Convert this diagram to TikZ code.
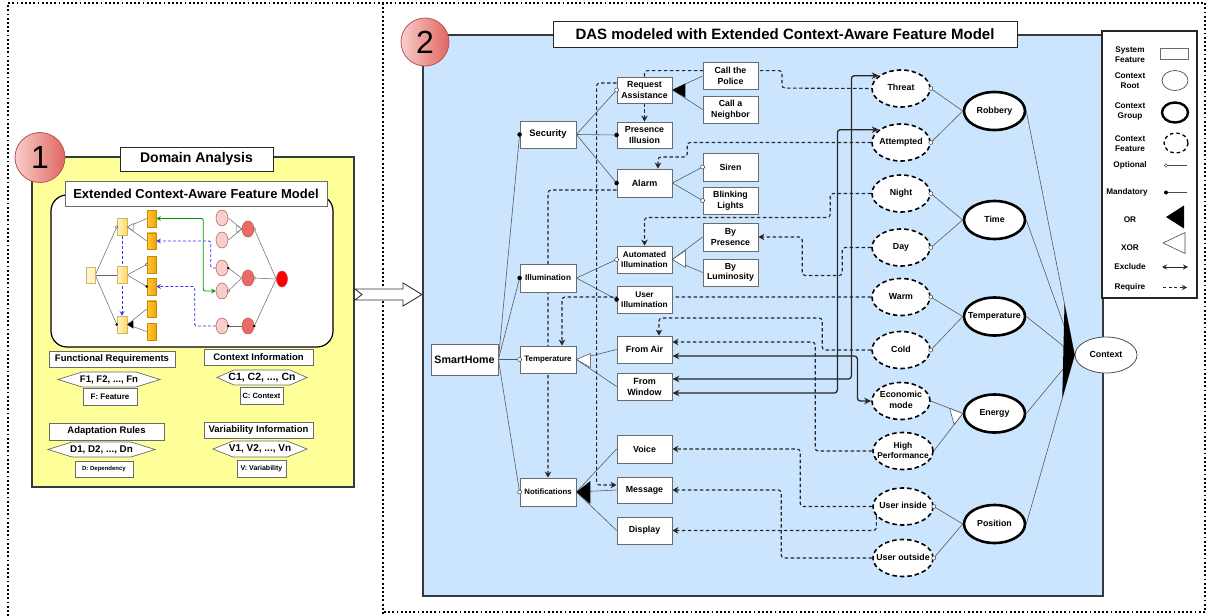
\documentclass[tikz,border=0pt]{standalone}
\usepackage{fontspec}
\setmainfont{Liberation Sans}
\usetikzlibrary{shapes.geometric,arrows.meta,calc}
\pgfdeclarelayer{back}
\pgfdeclarelayer{edges}
\pgfsetlayers{back,edges,main}

\definecolor{panelblue}{HTML}{CCE5FF}
\definecolor{panelyellow}{HTML}{FFFF99}
\definecolor{frameline}{HTML}{36393D}
\definecolor{boxline}{HTML}{6B6B6B}
\definecolor{badgelight}{HTML}{F8CECC}
\definecolor{badgedark}{HTML}{E06660}
\definecolor{badgeline}{HTML}{B85450}
\definecolor{paleyellow}{HTML}{FFF2CC}
\definecolor{midyellow}{HTML}{FFD966}
\definecolor{yelline}{HTML}{D6B656}
\definecolor{orangeA}{HTML}{FFC933}
\definecolor{orangeB}{HTML}{F0A30A}
\definecolor{orangeline}{HTML}{C98A00}
\definecolor{ctxred}{HTML}{EA6B66}
\definecolor{reqblue}{HTML}{3333FF}
\definecolor{exgreen}{HTML}{009900}

\newcommand{\bfsz}[2]{\fontsize{#1}{#2}\selectfont\bfseries}
\newcommand{\ctxtext}[1]{\makebox[0pt]{\begin{tabular}{@{}c@{}}#1\end{tabular}}}
% hexagon with pointed left/right ends: centre x, centre y, half width, indent, half height
\newcommand{\hexshape}[5]{%
  \filldraw[fill=white, draw=boxline, line width=0.7pt]
    (#1-#3,#2) -- (#1-#3+#4,#2-#5) -- (#1+#3-#4,#2-#5) -- (#1+#3,#2)
    -- (#1+#3-#4,#2+#5) -- (#1-#3+#4,#2+#5) -- cycle;}
\newcommand{\optmark}[1]{\filldraw[fill=white, draw=black!75, line width=0.5pt] (#1) circle (2pt);}
\newcommand{\mandmark}[1]{\fill[black] (#1) circle (2.3pt);}
\newcommand{\minioptmark}[1]{\filldraw[fill=white, draw=black!75, line width=0.4pt] (#1) circle (1.3pt);}
\newcommand{\minimandmark}[1]{\fill[black] (#1) circle (1.4pt);}

\tikzset{
  dotframe/.style={draw=black, line width=1.9pt, dash pattern=on 1.9pt off 2.3pt},
  panel/.style={draw=frameline, line width=1.5pt},
  badge/.style={circle, draw=badgeline, line width=0.8pt, left color=badgelight, right color=badgedark, inner sep=0pt, font=\fontsize{32}{32}\selectfont},
  titlebox/.style={draw=black!85, fill=white, line width=1pt, inner sep=0pt},
  lbox/.style={draw=boxline, fill=white, line width=0.8pt, inner sep=0pt},
  feat/.style={draw=boxline, fill=white, line width=0.8pt, minimum width=55pt, minimum height=27pt, inner sep=0pt, align=center, font=\bfsz{8.8}{10.5}},
  ctxf/.style={ellipse, draw=black, line width=1.6pt, dash pattern=on 4.5pt off 3pt, fill=white, minimum width=58pt, minimum height=37pt, inner sep=0pt, font=\bfsz{8.8}{10.5}},
  ctxg/.style={ellipse, draw=black, line width=2.6pt, fill=white, minimum width=61pt, minimum height=38pt, inner sep=0pt, font=\bfsz{8.8}{10.5}},
  ctxroot/.style={ellipse, draw=black!70, line width=0.8pt, fill=white, minimum width=62pt, minimum height=36pt, inner sep=0pt, font=\bfsz{8.8}{10.5}},
  tree/.style={draw=black!65, line width=0.6pt},
  req/.style={draw=black!85, line width=1.1pt, dash pattern=on 3.5pt off 2.5pt, rounded corners=3pt, -{Stealth[length=6pt,width=6.5pt]}},
  reqplain/.style={req, -},
  excl/.style={draw=black!85, line width=1.3pt, rounded corners=3pt, {Stealth[length=7pt,width=6.5pt]}-{Stealth[length=7pt,width=6.5pt]}},
  mroot/.style={rectangle, draw=yelline, fill=paleyellow, line width=0.5pt, minimum width=9pt, minimum height=16pt, inner sep=0pt},
  mmid/.style={rectangle, draw=yelline, left color=paleyellow, right color=midyellow, line width=0.5pt, minimum width=10pt, minimum height=17pt, inner sep=0pt},
  mleaf/.style={rectangle, draw=orangeline, left color=orangeA, right color=orangeB, line width=0.5pt, minimum width=9pt, minimum height=16.5pt, inner sep=0pt},
  mpink/.style={ellipse, draw=badgeline, fill=badgelight, line width=0.5pt, minimum width=12pt, minimum height=16pt, inner sep=0pt},
  mred/.style={mpink, fill=ctxred},
  mline/.style={draw=black!60, line width=0.5pt},
  mreq/.style={draw=reqblue, line width=0.9pt, dash pattern=on 3pt off 2pt, rounded corners=2pt, -{Stealth[length=4.5pt,width=4.5pt]}},
  mexcl/.style={draw=exgreen, line width=0.9pt, rounded corners=2pt, {Stealth[length=4.5pt,width=4.5pt]}-{Stealth[length=4.5pt,width=4.5pt]}},
  legtext/.style={align=center, font=\bfsz{8.2}{10}, inner sep=0pt},
}

\begin{document}
\begin{tikzpicture}[x=1pt,y=-1pt]
\useasboundingbox (0,0) rectangle (1208,616);

% ---------- frames and panels ----------
\begin{pgfonlayer}{back}
  \draw[dotframe] (8,616) -- (8,3) -- (1205,3) -- (1205,612) -- (383,612);
  \draw[dotframe] (383,3) -- (383,616);
  \draw[panel, fill=panelyellow] (32,157) rectangle (354,487);
  \draw[panel, fill=panelblue] (423,35) rectangle (1103,596);
  \draw[fill=white, draw=black, line width=1.2pt, rounded corners=16pt] (51,195) rectangle (333,347);
\end{pgfonlayer}

% arrow from the analysis panel to the model panel
\filldraw[fill=white, draw=black!80, line width=0.9pt]
  (355,289) -- (403,289) -- (403,283) -- (422,294.5) -- (403,306) -- (403,300)
  -- (355,300) -- (362,294.5) -- cycle;

% ---------- badges and titles ----------
\node[badge, minimum size=50pt] (badgeone) at (40,157.5) {1};
\node[badge, minimum size=48pt] (badgetwo) at (425,42) {2};
\node[titlebox, minimum width=153pt, minimum height=24pt, font=\bfsz{14}{16}] (domtitle) at (196.5,159) {Domain Analysis};
\node[titlebox, draw=boxline, minimum width=262pt, minimum height=25pt, font=\bfsz{13}{15}] (ecmtitle) at (196,193.5) {Extended Context-Aware Feature Model};
\node[titlebox, minimum width=464pt, minimum height=26pt, font=\bfsz{15}{17}] (dastitle) at (785,34.5) {DAS modeled with Extended Context-Aware Feature Model};

% ---------- small feature model sketch ----------
\node[mroot] (mr) at (90.5,275) {};
\node[mmid] (ma) at (122,227) {};
\node[mmid] (mb) at (122,275) {};
\node[mmid] (mc) at (122,324.5) {};
\node[mleaf] (la) at (151.5,218.5) {};
\node[mleaf] (lb) at (151.5,241) {};
\node[mleaf] (lc) at (151.5,264.5) {};
\node[mleaf] (ld) at (151.5,286.5) {};
\node[mleaf] (le) at (151.5,309) {};
\node[mleaf] (lf) at (151.5,331.5) {};
\node[mpink] (pa) at (222,218) {};
\node[mpink] (pb) at (222,240) {};
\node[mpink] (pc) at (222,268) {};
\node[mpink] (pd) at (222,291) {};
\node[mpink] (pe) at (222,326) {};
\node[mred] (ra) at (248,229) {};
\node[mred] (rb) at (248,278) {};
\node[mred] (rc) at (248,326) {};
\node[mpink, fill=red, minimum width=11pt] (rr) at (282,279) {};

\begin{pgfonlayer}{edges}
  \foreach \t in {ma,mb,mc} \draw[mline] (mr.east) -- (\t.west);
  \draw[mline] (ma.east) -- (la.west); \draw[mline] (ma.east) -- (lb.west);
  \draw[mline] (mb.east) -- (lc.west); \draw[mline] (mb.east) -- (ld.west);
  \draw[mline] (mc.east) -- (le.west); \draw[mline] (mc.east) -- (lf.west);
  \draw[mline] (pa.east) -- (ra.west); \draw[mline] (pb.east) -- (ra.west);
  \draw[mline] (pc.east) -- (rb.west); \draw[mline] (pd.east) -- (rb.west);
  \draw[mline] (pe.east) -- (rc.west);
  \foreach \t in {ra,rb,rc} \draw[mline] (\t.east) -- (rr.west);
  \draw[mreq] (ma.south) -- (mc.north);
  \draw[mexcl] (la.east) -- ++(47,0) |- (pd.west);
  \draw[mreq] (pc.west) -- ++(-5,0) |- (lb.east);
  \draw[mreq] (pe.west) -- ++(-21,0) |- (ld.east);
\end{pgfonlayer}
\filldraw[fill=white, draw=black!70, line width=0.4pt] (ma.east) -- ++(6,-3.5) -- ++(0,7) -- cycle;
\fill[black] (mc.east) -- ++(6,-4) -- ++(0,8) -- cycle;
\filldraw[fill=white, draw=black!70, line width=0.4pt] (ra.west) -- ++(-5,-3.5) -- ++(0,7) -- cycle;
\minioptmark{ma.west} \minimandmark{mc.west}
\minioptmark{lc.west} \minimandmark{ld.west}
\minimandmark{pc.east} \minioptmark{pd.east} \minimandmark{pe.east}
\minioptmark{ra.east} \minioptmark{rb.east} \minimandmark{rc.east}

% ---------- analysis artefacts ----------
\node[lbox, minimum width=126pt, minimum height=16pt, font=\bfsz{9.5}{11}] (funreq) at (112,359) {Functional Requirements};
\node[lbox, minimum width=109pt, minimum height=16pt, font=\bfsz{9.5}{11}] (ctxinfo) at (258.5,357) {Context Information};
\node[lbox, minimum width=115pt, minimum height=17pt, font=\bfsz{9.5}{11}] (adrules) at (106.5,431.5) {Adaptation Rules};
\node[lbox, minimum width=109pt, minimum height=16pt, font=\bfsz{9.5}{11}] (varinfo) at (258.5,430.5) {Variability Information};
\hexshape{109}{379.5}{51}{24}{7.5}
\hexshape{262}{377.5}{45}{17}{7.5}
\hexshape{101.5}{449.5}{53.5}{24}{7.5}
\hexshape{260}{449}{47}{20}{8}
\node[font=\bfsz{9.6}{11}] (fhex) at (109,379.5) {F1, F2, ..., Fn};
\node[font=\bfsz{10.5}{12}] (chex) at (262,377.5) {C1, C2, ..., Cn};
\node[font=\bfsz{9.8}{11}] (dhex) at (101.5,449.5) {D1, D2, ..., Dn};
\node[font=\bfsz{10}{11}] (vhex) at (260,449) {V1, V2, ..., Vn};
\node[lbox, minimum width=54pt, minimum height=17pt, font=\bfsz{8}{9}] (fkey) at (110,396.5) {F: Feature};
\node[lbox, minimum width=43pt, minimum height=17pt, font=\bfsz{7.5}{9}] (ckey) at (261.5,395.5) {C: Context};
\node[lbox, minimum width=58pt, minimum height=16pt, font=\bfsz{6}{7}] (dkey) at (104,469) {D: Dependency};
\node[lbox, minimum width=49pt, minimum height=17pt, font=\bfsz{7}{8}] (vkey) at (261.5,468.5) {V: Variability};

% ---------- system features ----------
\node[feat, minimum width=67pt, minimum height=31pt, font=\bfsz{10.7}{12}] (home) at (464.5,359.5) {SmartHome};
\node[feat, minimum width=56pt, font=\bfsz{9.4}{11}] (sec) at (548,134.5) {Security};
\node[feat, minimum width=56pt, minimum height=28pt, font=\bfsz{8.2}{10}] (illu) at (548,278) {Illumination};
\node[feat, minimum width=56pt, font=\bfsz{7.9}{10}] (temp) at (548,359.5) {Temperature};
\node[feat, minimum width=56pt, minimum height=28pt, font=\bfsz{7.8}{10}] (notif) at (548,492) {Notifications};

\node[feat, minimum height=26pt] (reqa) at (644.5,90) {Request\\Assistance};
\node[feat, minimum height=26pt] (pres) at (644.5,135) {Presence\\Illusion};
\node[feat, minimum height=28pt, font=\bfsz{9}{10.5}] (alarm) at (644.5,183) {Alarm};
\node[feat, font=\bfsz{8.3}{10}] (autoill) at (644.5,259.5) {Automated\\Illumination};
\node[feat, font=\bfsz{8.3}{10}] (userill) at (644.5,299.5) {User\\Illumination};
\node[feat, font=\bfsz{9}{10.5}] (fromair) at (644.5,349.5) {From Air};
\node[feat, font=\bfsz{9}{11}] (fromwin) at (644.5,386.5) {From\\Window};
\node[feat, minimum height=28pt] (voice) at (644.5,449) {Voice};
\node[feat, minimum height=26pt] (msg) at (644.5,490) {Message};
\node[feat, minimum height=27pt] (disp) at (644.5,530.5) {Display};

\node[feat] (police) at (730.5,76) {Call the\\Police};
\node[feat] (neigh) at (730.5,109.5) {Call a\\Neighbor};
\node[feat, minimum height=28pt] (siren) at (730.5,167) {Siren};
\node[feat] (blink) at (730.5,200.5) {Blinking\\Lights};
\node[feat, minimum height=28pt] (bypres) at (730.5,237) {By\\Presence};
\node[feat] (bylum) at (730.5,272.5) {By\\Luminosity};

% ---------- context features, groups and root ----------
\node[ctxf] (threat) at (901,88.5) {\ctxtext{Threat}};
\node[ctxf] (attempt) at (901,142.5) {\ctxtext{Attempted}};
\node[ctxf] (night) at (901,193.5) {\ctxtext{Night}};
\node[ctxf] (day) at (901,247.5) {\ctxtext{Day}};
\node[ctxf] (warm) at (901,297) {\ctxtext{Warm}};
\node[ctxf] (cold) at (901,350) {\ctxtext{Cold}};
\node[ctxf] (eco) at (901,401) {\ctxtext{Economic\\mode}};
\node[ctxf, minimum width=60pt, font=\bfsz{8.4}{10}] (highperf) at (903,451) {\ctxtext{High\\Performance}};
\node[ctxf, minimum width=60pt] (uin) at (903,506.5) {\ctxtext{User inside}};
\node[ctxf, minimum width=60pt] (uout) at (903,558) {\ctxtext{User outside}};

\node[ctxg] (rob) at (994.5,111) {\ctxtext{Robbery}};
\node[ctxg] (time) at (994.5,220) {\ctxtext{Time}};
\node[ctxg] (tempg) at (994.5,316.5) {\ctxtext{Temperature}};
\node[ctxg] (energy) at (994.5,413.5) {\ctxtext{Energy}};
\node[ctxg] (posg) at (994.5,524) {\ctxtext{Position}};
\node[ctxroot] (ctx) at (1106,355) {\ctxtext{Context}};

% ---------- connectors ----------
\begin{pgfonlayer}{edges}
  % decomposition
  \foreach \t in {sec,illu,temp,notif} \draw[tree] (home.east) -- (\t.west);
  \foreach \t in {reqa,pres,alarm} \draw[tree] (sec.east) -- (\t.west);
  \foreach \t in {police,neigh} \draw[tree] (reqa.east) -- (\t.west);
  \foreach \t in {siren,blink} \draw[tree] (alarm.east) -- (\t.west);
  \foreach \t in {autoill,userill} \draw[tree] (illu.east) -- (\t.west);
  \foreach \t in {bypres,bylum} \draw[tree] (autoill.east) -- (\t.west);
  \foreach \t in {fromair,fromwin} \draw[tree] (temp.east) -- (\t.west);
  \foreach \t in {voice,msg,disp} \draw[tree] (notif.east) -- (\t.west);
  \foreach \a/\b in {threat/rob,attempt/rob,night/time,day/time,warm/tempg,cold/tempg,eco/energy,highperf/energy,uin/posg,uout/posg}
    \draw[tree] (\a.east) -- (\b.west);
  \foreach \t in {rob,time,tempg,energy,posg} \draw[tree] (\t.east) -- (ctx.west);

  % requires
  \draw[req] (reqa.south) -- (pres.north);
  \draw[reqplain] (reqa.north) -- ++(0,-6) -| ++(137.5,17.5) -- (threat.west);
  \draw[req] ($(reqa.west)+(0,-7)$) -- ++(-20,0) |- ($(msg.west)+(0,-5)$);
  \draw[req] ($(alarm.west)+(0,7)$) -| (notif.north);
  \draw[req] (attempt.west) -- ++(-184,0) -- ++(0,14.5) -| ($(alarm.north)+(13.5,0)$);
  \draw[req] (night.west) -- ++(-41,0) -- ++(0,24) -| (autoill.north);
  \draw[req] (day.west) -- ++(-29,0) -- ++(0,28) -- ++(-40,0) |- (bypres.east);
  \draw[req] (warm.west) -| ($(temp.north)+(14,0)$);
  \draw[req] (cold.west) -- ++(-49,0) -- ++(0,-32) -| ($(fromair.north)+(14.5,0)$);
  \draw[req] (highperf.west) -- ++(-57,0) |- ($(fromair.east)+(0,-7.5)$);
  \draw[req] (uin.west) -- ++(-72,0) |- (voice.east);
  \draw[req] (uin.200) |- (disp.east);
  \draw[req] (uout.west) -- ++(-91,0) |- (msg.east);

  % excludes
  \draw[excl] ($(fromair.east)+(0,6.5)$) -- ++(185,0) |- (eco.west);
  \draw[excl] ($(fromwin.east)+(0,-7.5)$) -- ++(179,0) |- (threat.150);
  \draw[excl] ($(fromwin.east)+(0,6.5)$) -- ++(165,0) |- (attempt.150);
\end{pgfonlayer}

% group cardinality symbols
\fill[black] (reqa.east) -- ++(13,-6.5) -- ++(0,14) -- cycle;
\fill[black] (notif.east) -- ++(14,-11) -- ++(0,23) -- cycle;
\filldraw[fill=white, draw=black!75, line width=0.5pt] (autoill.east) -- ++(13,-9) -- ++(0,17) -- cycle;
\filldraw[fill=white, draw=black!75, line width=0.5pt] (temp.east) -- ++(14,-6) -- ++(0,14) -- cycle;
\filldraw[fill=white, draw=black!75, line width=0.5pt] (energy.west) -- ($(energy.west)!14pt!(eco.east)$) -- ($(energy.west)!14pt!(highperf.east)$) -- cycle;
\fill[black] (ctx.west) -- ($(ctx.west)!52pt!(rob.east)$) -- ($(ctx.west)!45pt!(posg.east)$) -- cycle;

% optional / mandatory markers
\mandmark{sec.west} \mandmark{illu.west} \optmark{temp.west} \optmark{notif.west}
\optmark{reqa.west} \mandmark{pres.west} \mandmark{alarm.west}
\optmark{siren.west} \optmark{blink.west}
\optmark{autoill.west} \mandmark{userill.west}
\foreach \t in {threat,attempt,night,day,warm,cold,uin,uout} {\optmark{\t.east}}

% ---------- legend ----------
\filldraw[fill=white, draw=black!85, line width=1.2pt] (1102,31) rectangle (1197,298);
\node[legtext] (lgsys) at (1130,55) {System\\Feature};
\node[legtext] (lgroot) at (1130,80.5) {Context\\Root};
\node[legtext] (lggrp) at (1130,111.5) {Context\\Group};
\node[legtext] (lgfeat) at (1130,143.5) {Context\\Feature};
\node[legtext] (lgopt) at (1130,165.5) {Optional};
\node[legtext] (lgman) at (1127,192) {Mandatory};
\node[legtext] (lgor) at (1130,220) {OR};
\node[legtext] (lgxor) at (1130,248) {XOR};
\node[legtext] (lgexc) at (1130,267) {Exclude};
\node[legtext] (lgreq) at (1130,287.5) {Require};
\draw[draw=boxline, line width=0.7pt] (1160,48) rectangle (1188,59);
\draw[draw=black!70, line width=0.7pt] (1175,80.5) ellipse [x radius=13, y radius=10];
\draw[draw=black, line width=2.4pt] (1175,112.5) ellipse [x radius=13, y radius=10];
\draw[draw=black, line width=1.3pt, dash pattern=on 3.5pt off 3pt] (1176,143) ellipse [x radius=12, y radius=10];
\draw[draw=black!70, line width=0.6pt] (1168,165.5) -- (1187,165.5);
\filldraw[fill=white, draw=black!70, line width=0.5pt] (1166,165.5) circle (1.8pt);
\draw[draw=black!70, line width=0.6pt] (1166,192.5) -- (1187,192.5);
\fill[black] (1166,192.5) circle (2pt);
\fill[black] (1166,217) -- (1184,205.5) -- (1184,228.5) -- cycle;
\filldraw[fill=white, draw=black!70, line width=0.6pt] (1163,243) -- (1185,232.5) -- (1185,253.5) -- cycle;
\draw[black!85, line width=1pt, {Stealth[length=5pt,width=5pt]}-{Stealth[length=5pt,width=5pt]}] (1162,267) -- (1188,267);
\draw[black!85, line width=1pt, dash pattern=on 3pt off 2.5pt, -{Stealth[length=5pt,width=5pt]}] (1163,287.5) -- (1187,287.5);
\end{tikzpicture}
\end{document}
